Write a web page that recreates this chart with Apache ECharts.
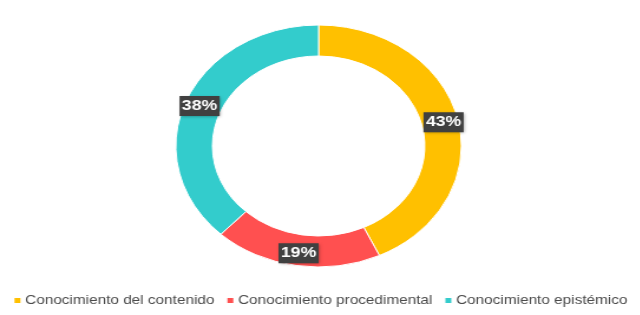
<!DOCTYPE html>
<html lang="es">
  <head>
    <meta charset="UTF-8" />
    <title>ECharts</title>
    <script src="https://cdn.jsdelivr.net/npm/echarts@6/dist/echarts.min.js"></script>
    <style>
      html, body { margin: 0; padding: 0; background: #fff; overflow: hidden; }
      /* the reference is stretched sideways, so the chart is too */
      #main {
        width: 542px;
        height: 315px;
        transform: scaleX(1.18);
        transform-origin: left top;
      }
    </style>
  </head>

  <body>
    <div id="main"></div>
    <script type="text/javascript">
      var categories = [
        "Conocimiento del contenido",
        "Conocimiento procedimental",
        "Conocimiento epistémico",
      ];
      var values = [43, 19, 38];
      var colors = ["#FFC000", "#FF5050", "#33CCCC"];

      var myChart = echarts.init(document.getElementById("main"));
      var option = {
        color: colors,
        legend: {
          data: categories,
          bottom: 3,
          left: "center",
          icon: "rect",
          itemWidth: 7,
          itemHeight: 7,
          itemGap: 9,
          textStyle: {
            fontFamily: "Liberation Sans",
            fontSize: 13,
            color: "#4a4a4a",
            padding: [0, 0, 0, -2],
          },
        },
        series: [
          {
            type: "pie",
            center: [270, 146],
            radius: [90, 121],
            startAngle: 90,
            clockwise: true,
            avoidLabelOverlap: false,
            itemStyle: { borderColor: "#fff", borderWidth: 1 },
            label: {
              show: true,
              position: "inside",
              formatter: "{c}%",
              fontFamily: "Liberation Sans",
              fontWeight: "bold",
              fontSize: 15,
              color: "#fff",
              backgroundColor: "#404040",
              padding: [3, 2, 2, 2],
              shadowColor: "rgba(0,0,0,0.35)",
              shadowBlur: 3,
              shadowOffsetX: 1,
              shadowOffsetY: 1,
            },
            labelLine: { show: false },
            emphasis: { disabled: true },
            data: categories.map(function (name, i) {
              return { name: name, value: values[i] };
            }),
          },
        ],
      };
      myChart.setOption(option);
    </script>
  </body>
</html>
